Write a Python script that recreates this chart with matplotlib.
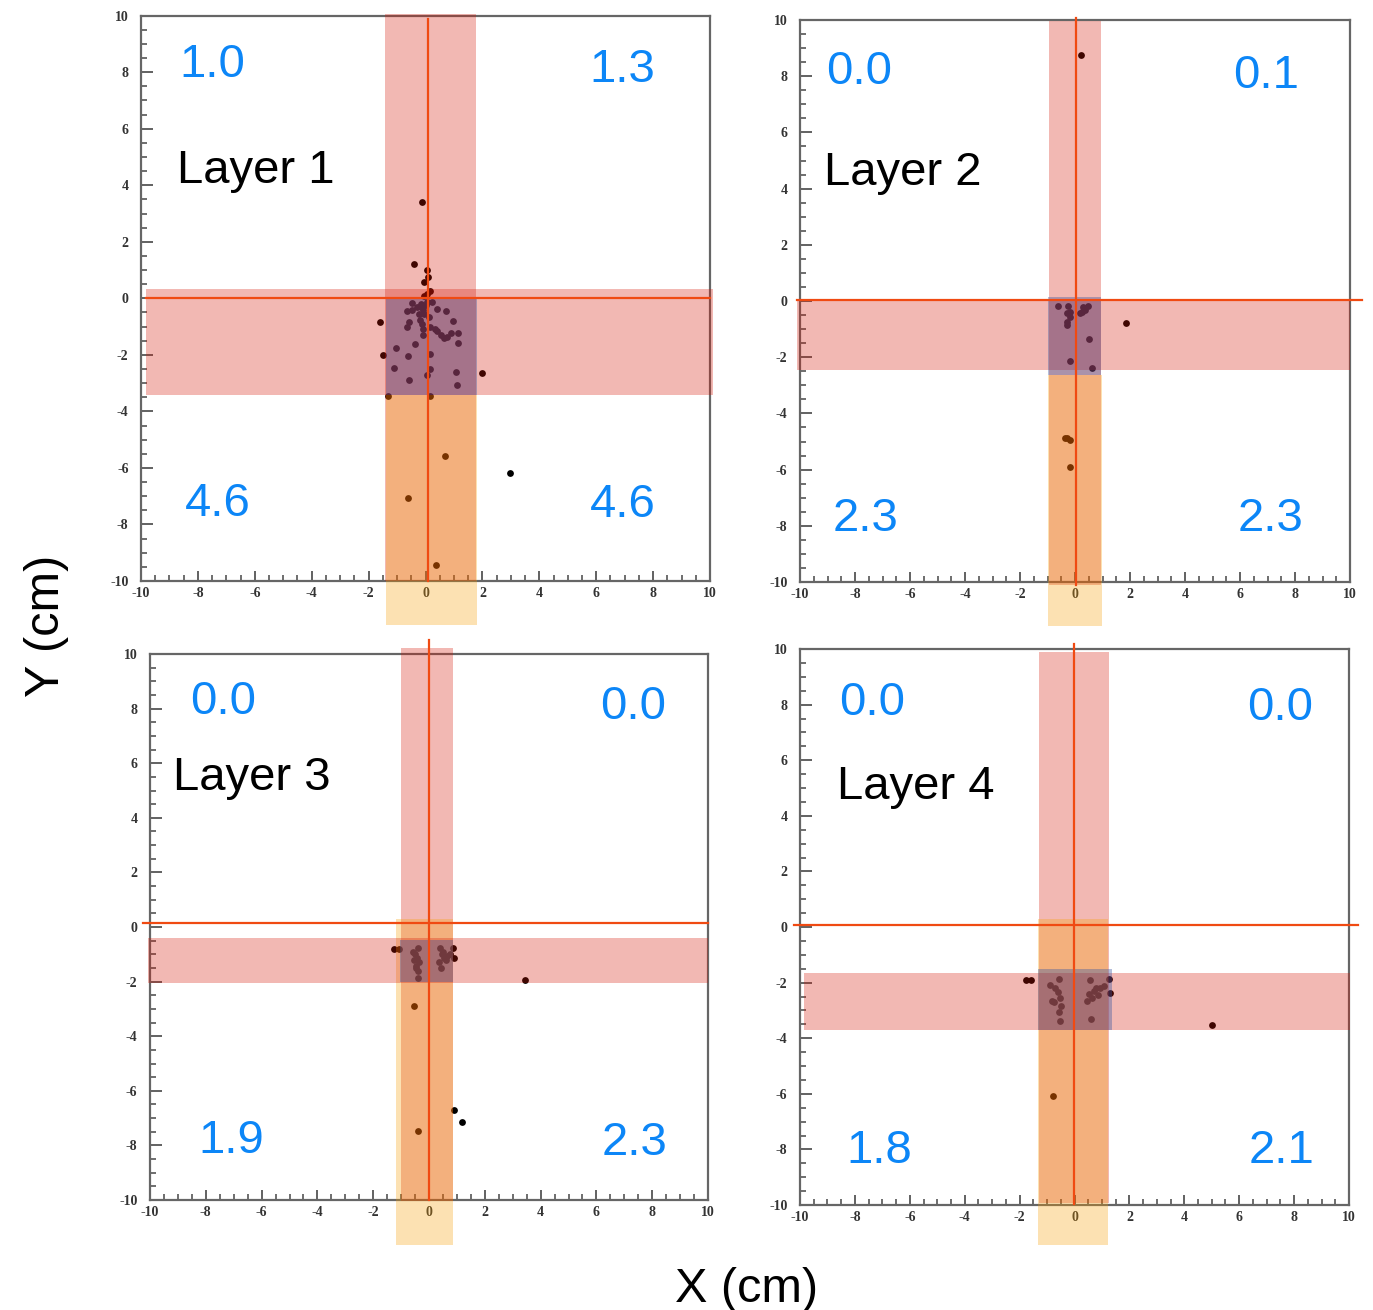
import matplotlib
matplotlib.use("Agg")
import matplotlib.pyplot as plt
from matplotlib.patches import Rectangle
from matplotlib.ticker import MultipleLocator, FuncFormatter
import numpy as np

plt.rcParams['font.family'] = ['Liberation Sans', 'DejaVu Sans']
plt.rcParams['axes.unicode_minus'] = False

W, H = 1373, 1310

# ---------------- data ----------------
layer_names = ['Layer 1', 'Layer 2', 'Layer 3', 'Layer 4']
val_ul = ['1.0', '0.0', '0.0', '0.0']
val_ur = ['1.3', '0.1', '0.0', '0.0']
val_ll = ['4.6', '2.3', '1.9', '1.8']
val_lr = ['4.6', '2.3', '2.3', '2.1']

# vertical red band (x range, y range)
vband_x = [(-1.44, 1.76), (-0.96, 0.93), (-1.02, 0.87), (-1.31, 1.24)]
vband_y = [(-10.0, 10.07), (-10.1, 9.96), (-10.03, 10.22), (-9.93, 9.89)]
# yellow band
yband_x = [(-1.40, 1.81), (-0.99, 0.97), (-1.17, 0.87), (-1.34, 1.21)]
yband_y = [(-11.56, -3.41), (-11.56, -2.63), (-11.65, 0.30), (-11.45, 0.28)]
# horizontal red band
hband_x = [(-9.83, 10.12), (-10.1, 10.0), (-10.07, 10.0), (-9.87, 10.04)]
hband_y = [(-3.41, 0.33), (-2.44, 0.04), (-2.05, -0.40), (-3.72, -1.65)]
# blue overlap square
cbox_x = [(-1.40, 1.81), (-0.99, 0.96), (-1.03, 0.87), (-1.34, 1.38)]
cbox_y = [(-3.41, 0.0), (-2.63, 0.14), (-2.02, -0.48), (-3.72, -1.51)]
# crosshair lines
cross_vx = [0.10, 0.05, 0.0, -0.03]
cross_vy = [(-10.0, 9.9), (-10.1, 10.07), (-10.0, 10.5), (-9.97, 10.17)]
cross_hy = [0.0, 0.02, 0.15, 0.06]
cross_hx = [(-9.83, 10.0), (-10.1, 10.42), (-10.25, 10.0), (-10.23, 10.33)]

pts1_x = [-0.12, -0.39, 0.04, 0.10, -0.07, 0.16, 0.06, -0.05, -1.59, -1.49, 1.98, -1.33, 0.16, 0.69, -0.60, 2.97, 0.36,
          -0.46, 0.24, 0.39, 0.71, -0.64, -0.46, -0.17, -0.23, -0.05, 0.12, -0.58, 0.98, -0.66, -0.08, 0.33, 0.15,
          -0.08, 0.39, 0.89, 1.14, 0.65, 1.14, -0.37, -1.05, -0.60, 0.17, -1.11, 0.15, -0.58, 0.06, 1.06, 1.10,
          -0.15, -0.10, -0.20, -0.12, 0.00, -0.30, 0.05, 0.55, 0.75]
pts1_y = [3.42, 1.21, 1.00, 0.76, 0.59, 0.27, 0.16, 0.10, -0.84, -2.00, -2.63, -3.45, -3.45, -5.56, -7.07, -6.19, -9.44,
          -0.18, -0.14, -0.36, -0.46, -0.46, -0.41, -0.32, -0.55, -0.55, -0.67, -0.85, -0.81, -1.02, -1.08, -1.08, -1.02,
          -1.28, -1.15, -1.22, -1.21, -1.40, -1.58, -1.63, -1.77, -2.04, -1.98, -2.46, -2.51, -2.90, -2.70, -2.61, -3.05,
          -0.20, -0.40, -0.75, -0.90, -0.25, -0.30, -0.12, -1.30, -1.35]
pts2_x = [0.22, 1.85, -0.63, -0.24, -0.20, -0.28, -0.20, -0.30, -0.28, 0.30, 0.48, 0.24, 0.36, 0.18, 0.50, -0.18, 0.63,
          -0.30, -0.20, -0.36, -0.18]
pts2_y = [8.76, -0.79, -0.17, -0.17, -0.38, -0.44, -0.56, -0.74, -0.85, -0.20, -0.18, -0.38, -0.32, -0.44, -1.35, -2.14, -2.37,
          -4.86, -4.95, -4.86, -5.90]
pts3_x = [-1.24, -1.09, 0.87, 0.91, 3.45, -0.54, -0.38, 0.91, 1.18,
          -0.38, -0.50, -0.42, -0.35, -0.47, -0.38, -0.38, -0.57, -0.53, -0.45,
          0.39, 0.46, 0.54, 0.36, 0.42, 0.66, 0.76, 0.51, 0.60]
pts3_y = [-0.80, -0.80, -0.77, -1.13, -1.93, -2.90, -7.47, -6.72, -7.15,
          -0.77, -0.99, -1.13, -1.28, -1.42, -1.61, -1.86, -0.92, -1.21, -1.50,
          -0.77, -0.99, -1.13, -1.28, -1.50, -1.06, -0.99, -0.92, -1.20]
pts4_x = [-1.78, -1.60, 1.24, 1.28, 5.01, -0.78,
          -0.90, -0.71, -0.57, -0.61, -0.81, -0.53, -0.75, -0.50, -0.57, -0.54,
          0.57, 0.78, 0.53, 0.47, 0.64, 0.93, 1.07, 0.61, 0.85, 0.71]
pts4_y = [-1.92, -1.92, -1.88, -2.37, -3.54, -6.09,
          -2.08, -2.19, -1.88, -2.34, -2.65, -2.55, -2.68, -2.83, -3.07, -3.39,
          -1.90, -2.19, -2.40, -2.65, -2.55, -2.19, -2.12, -3.32, -2.45, -2.31]
pts_x = [pts1_x, pts2_x, pts3_x, pts4_x]
pts_y = [pts1_y, pts2_y, pts3_y, pts4_y]

tick_major = [-10, -8, -6, -4, -2, 0, 2, 4, 6, 8, 10]

# ---------------- layout (pixels) ----------------
axes_px = [(141, 710, 15.7, 581), (800, 1350, 20, 582), (150, 708, 654, 1200), (800, 1349, 649, 1205)]
# (x_center, baseline) for ul, ur, ll, lr ; (x_left, baseline) for layer label
pos_ul = [(212.5, 77), (859, 84), (223, 713.5), (872, 714.7)]
pos_ur = [(622.5, 82), (1266.5, 88), (633, 718.7), (1280, 719.5)]
pos_ll = [(218, 516), (866, 531), (231.5, 1153), (879, 1162.6)]
pos_lr = [(623, 517), (1271, 531), (635, 1155), (1281.5, 1162.6)]
pos_lab = [(177, 182.6), (824, 185.4), (173, 790), (837, 799)]

RED = (215/255, 22/255, 5/255)
YEL = (248/255, 158/255, 0/255)
BLU = (55/255, 84/255, 160/255)
LINE = '#F04A12'
BLUE_TXT = '#0C86F7'
FS = 34

fig = plt.figure(figsize=(W/100, H/100), dpi=100)

def fx(x):
    return x / W

def fy(y):
    return 1 - y / H

for i in range(4):
    l, r, t, b = axes_px[i]
    ax = fig.add_axes([l/W, 1-b/H, (r-l)/W, (b-t)/H])
    ax.set_xlim(-10, 10)
    ax.set_ylim(-10, 10)
    ax.scatter(pts_x[i], pts_y[i], s=24, c='black', linewidths=0, zorder=2)

    def rect(xr, yr, color, alpha, z):
        ax.add_patch(Rectangle((xr[0], yr[0]), xr[1]-xr[0], yr[1]-yr[0],
                               facecolor=color, edgecolor='none', alpha=alpha,
                               zorder=z, clip_on=False))
    rect(vband_x[i], vband_y[i], RED, 0.3, 3.0)
    rect(yband_x[i], yband_y[i], YEL, 0.3, 3.1)
    rect(hband_x[i], hband_y[i], RED, 0.3, 3.2)
    rect(cbox_x[i], cbox_y[i], BLU, 0.38, 3.3)

    ax.plot([cross_vx[i], cross_vx[i]], cross_vy[i], color=LINE, lw=1.6, zorder=4, clip_on=False)
    ax.plot(cross_hx[i], [cross_hy[i], cross_hy[i]], color=LINE, lw=1.6, zorder=4, clip_on=False)

    for s in ax.spines.values():
        s.set_color('#666666')
        s.set_linewidth(1.6)
    ax.xaxis.set_minor_locator(MultipleLocator(0.5))
    ax.yaxis.set_minor_locator(MultipleLocator(0.5))
    ax.set_xticks(tick_major)
    ax.set_yticks(tick_major)
    ax.xaxis.set_major_formatter(FuncFormatter(lambda v, p: '%d' % round(v)))
    ax.yaxis.set_major_formatter(FuncFormatter(lambda v, p: '%d' % round(v)))
    ax.tick_params(which='both', direction='in', top=False, right=False, color='#555555')
    ax.tick_params(axis='y', which='major', length=8.5, width=1.3, pad=9)
    ax.tick_params(axis='x', which='major', length=7.5, width=1.3, pad=4)
    ax.tick_params(which='minor', length=4.5, width=1.2)
    for lab in ax.get_xticklabels() + ax.get_yticklabels():
        lab.set_fontfamily('Liberation Serif')
        lab.set_fontweight('bold')
        lab.set_fontsize(10)
        lab.set_color('#333333')

    for txt, (px, py) in zip([val_ul[i], val_ur[i], val_ll[i], val_lr[i]],
                             [pos_ul[i], pos_ur[i], pos_ll[i], pos_lr[i]]):
        fig.text(fx(px), fy(py), txt, color=BLUE_TXT, fontsize=FS, ha='center', va='baseline', zorder=6)
    fig.text(fx(pos_lab[i][0]), fy(pos_lab[i][1]), layer_names[i], color='black', fontsize=FS,
             ha='left', va='baseline', zorder=6)

fig.text(fx(59), fy(626), 'Y (cm)', fontsize=35, rotation=90, rotation_mode='anchor',
         ha='center', va='baseline', color='black')
fig.text(fx(746.7), fy(1301.7), 'X (cm)', fontsize=35, ha='center', va='baseline', color='black')

fig.savefig('out.png', dpi=100)
